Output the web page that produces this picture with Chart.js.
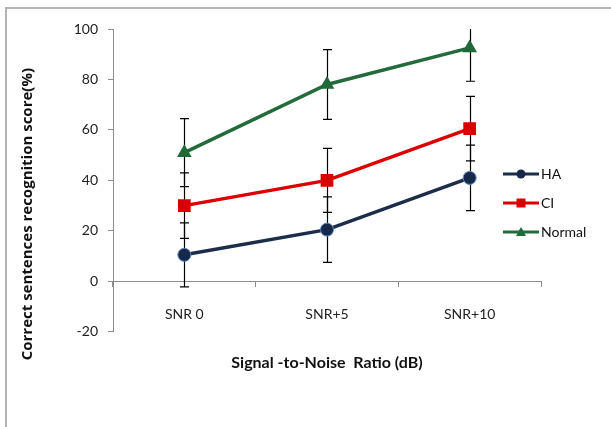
<!DOCTYPE html>
<html>
<head>
<meta charset="utf-8">
<script src="https://cdn.jsdelivr.net/npm/chart.js@4.4.0/dist/chart.umd.min.js"></script>
<style>
  body { margin: 0; background: #fff; overflow: hidden; }
  #wrap { position: relative; width: 611px; height: 427px; }
  #frame { position: absolute; left: 5px; top: 7px; width: 700px; height: 500px; border: 2px solid #b4b4b4; }
  canvas { position: absolute; left: 0; top: 0; }
</style>
</head>
<body>
<div id="wrap">
  <div id="frame"></div>
  <canvas id="snrChart" width="611" height="427"></canvas>
</div>
<script>
const categories = ['SNR 0', 'SNR+5', 'SNR+10'];
const haScores = [10.5, 20.5, 41];
const ciScores = [30, 40, 60.5];
const normalScores = [51, 78, 92.5];
const haErrors = [12.7, 13, 13];
const ciErrors = [13, 12.7, 12.8];
const normalErrors = [13.5, 13.8, 13.2];
const yTicks = [-20, 0, 20, 40, 60, 80, 100];

const FONT = 'Lato, "Open Sans", sans-serif';

// vertical error bars, drawn under the lines
const errorBars = {
    id: 'errorBars',
    beforeDatasetsDraw(chart) {
        const { ctx, chartArea, scales: { y } } = chart;
        ctx.save();
        ctx.beginPath();
        ctx.rect(chartArea.left, chartArea.top, chartArea.width, chartArea.height);
        ctx.clip();
        ctx.strokeStyle = '#000';
        ctx.lineWidth = 1.2;
        chart.data.datasets.forEach((ds, i) => {
            const meta = chart.getDatasetMeta(i);
            ds.errors.forEach((e, j) => {
                const px = Math.round(meta.data[j].x) + 0.5;
                const top = y.getPixelForValue(ds.data[j] + e);
                const bot = y.getPixelForValue(ds.data[j] - e);
                ctx.beginPath();
                ctx.moveTo(px, top);
                ctx.lineTo(px, bot);
                ctx.moveTo(px - 4.5, top);
                ctx.lineTo(px + 4.5, top);
                ctx.moveTo(px - 4.5, bot);
                ctx.lineTo(px + 4.5, bot);
                ctx.stroke();
            });
        });
        ctx.restore();
    }
};

// legend with line + marker, placed like the original
const lineLegend = {
    id: 'lineLegend',
    afterDraw(chart) {
        const ctx = chart.ctx;
        const x0 = 503, x1 = 539;
        const rows = [174, 203, 232];
        ctx.save();
        chart.data.datasets.forEach((ds, i) => {
            const yy = rows[i];
            const cx = (x0 + x1) / 2;
            ctx.strokeStyle = ds.borderColor;
            ctx.lineWidth = 3;
            ctx.beginPath();
            ctx.moveTo(x0, yy);
            ctx.lineTo(x1, yy);
            ctx.stroke();
            ctx.fillStyle = ds.pointBackgroundColor;
            ctx.beginPath();
            if (ds.pointStyle === 'circle') {
                ctx.arc(cx, yy, 4.5, 0, Math.PI * 2);
            } else if (ds.pointStyle === 'rect') {
                ctx.rect(cx - 4.5, yy - 4.5, 9, 9);
            } else {
                ctx.moveTo(cx, yy - 5);
                ctx.lineTo(cx + 5, yy + 4);
                ctx.lineTo(cx - 5, yy + 4);
                ctx.closePath();
            }
            ctx.fill();
            ctx.fillStyle = '#111';
            ctx.font = '14px ' + FONT;
            ctx.textAlign = 'left';
            ctx.textBaseline = 'middle';
            ctx.fillText(ds.label, x1 + 2, yy);
        });
        ctx.restore();
    }
};

const ctx = document.getElementById('snrChart').getContext('2d');

new Chart(ctx, {
    type: 'line',
    data: {
        labels: categories,
        datasets: [
            {
                label: 'HA',
                data: haScores,
                errors: haErrors,
                borderColor: '#1c2d4a',
                borderWidth: 3.5,
                pointStyle: 'circle',
                pointRadius: 6.5,
                pointBackgroundColor: '#17294a',
                pointBorderColor: '#5a86bd',
                pointBorderWidth: 1
            },
            {
                label: 'CI',
                data: ciScores,
                errors: ciErrors,
                borderColor: '#dc0000',
                borderWidth: 3.5,
                pointStyle: 'rect',
                pointRadius: 9,
                pointBackgroundColor: '#d80000',
                pointBorderColor: '#d80000',
                pointBorderWidth: 0
            },
            {
                label: 'Normal',
                data: normalScores,
                errors: normalErrors,
                borderColor: '#246b3c',
                borderWidth: 3.5,
                pointStyle: 'triangle',
                pointRadius: 8.5,
                pointBackgroundColor: '#1f6a38',
                pointBorderColor: '#1f6a38',
                pointBorderWidth: 0
            }
        ]
    },
    options: {
        responsive: false,
        animation: false,
        layout: {
            padding: { left: 0, right: 70, top: 29, bottom: 55 }
        },
        scales: {
            y: {
                min: -20,
                max: 100,
                afterBuildTicks: function(scale) {
                    scale.ticks = yTicks.map(v => ({ value: v }));
                },
                afterFit: function(scale) {
                    scale.width = 113;
                },
                grid: {
                    drawOnChartArea: false,
                    tickLength: 5,
                    color: '#8c8c8c'
                },
                border: { color: '#8c8c8c' },
                ticks: {
                    padding: 10,
                    color: '#222',
                    font: { family: FONT, size: 14 }
                },
                title: {
                    display: true,
                    // trailing wide spaces push the text down a little, as in the source
                    text: 'Correct sentences recognition score(%)\u2003\u2003\u2003\u2003\u2002',
                    color: '#111',
                    padding: { top: 19, bottom: 0 },
                    font: { family: '"Open Sans", Lato, sans-serif', size: 15, weight: 'bold' }
                }
            },
            x: {
                position: { y: 0 },
                offset: true,
                grid: {
                    offset: true,
                    drawOnChartArea: false,
                    tickLength: 5,
                    color: '#8c8c8c'
                },
                border: { color: '#8c8c8c' },
                ticks: {
                    padding: 20,
                    color: '#222',
                    font: { family: FONT, size: 14 }
                }
            },
            x2: {
                type: 'category',
                position: 'bottom',
                labels: categories,
                grid: { display: false, drawTicks: false },
                border: { display: false },
                ticks: { display: false },
                title: {
                    display: true,
                    text: 'Signal -to-Noise  Ratio (dB)',
                    color: '#111',
                    padding: { top: 21, bottom: 0 },
                    font: { family: FONT, size: 16, weight: 'bold' }
                }
            }
        },
        plugins: {
            legend: { display: false },
            tooltip: { enabled: false }
        }
    },
    plugins: [errorBars, lineLegend]
});
</script>
</body>
</html>
